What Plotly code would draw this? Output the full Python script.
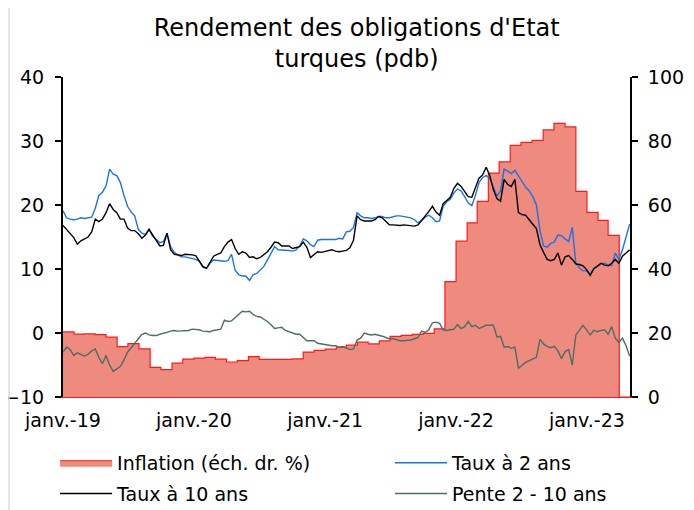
import pandas as pd
import plotly.graph_objects as go

# ---------------- data ----------------
# daily-ish series sampled every 10 days starting 2019-01-01
dates = pd.date_range("2019-01-01", periods=159, freq="10D")

taux_2ans = [
    19.1, 18.0, 17.8, 17.7, 17.8, 18.0, 17.9, 18.0, 18.1, 19.5,
    21.5, 22.0, 23.0, 25.6, 24.8, 24.6, 23.5, 21.5, 19.8, 18.9,
    18.3, 16.2, 15.6, 15.4, 16.2, 15.1, 14.6, 14.1, 14.3, 15.6,
    13.5, 12.6, 12.2, 11.9, 11.9, 11.8, 11.7, 11.5, 11.2, 10.3,
    10.1, 10.9, 11.4, 11.3, 11.2, 11.2, 11.3, 12.3, 9.8, 9.1,
    8.9, 8.9, 8.2, 9.1, 9.3, 9.8, 10.4, 11.4, 12.5, 13.5,
    13.0, 13.0, 13.0, 12.9, 12.8, 13.0, 13.6, 14.7, 14.4, 13.8,
    13.5, 14.5, 14.6, 14.6, 14.6, 14.6, 14.6, 14.8, 14.7,
    15.8, 15.9, 16.5, 18.8, 18.3, 18.0, 18.0, 17.9, 18.0, 18.2,
    18.2, 18.0, 18.0, 18.2, 18.3, 18.3, 18.2, 18.1, 18.0, 17.7,
    17.2, 17.6, 18.1, 18.4, 18.0, 17.4, 17.5, 19.8, 20.5, 20.9,
    21.9, 22.5, 22.2, 21.3, 20.3, 19.9, 21.5, 23.5, 24.3, 24.6,
    24.2, 22.8, 21.4, 22.2, 25.6, 25.3, 24.9, 25.4, 24.5, 23.5,
    22.8, 22.2, 21.3, 20.0, 16.0, 13.6, 13.4, 14.0, 14.2, 15.3,
    15.2, 14.7, 14.3, 16.5, 10.9, 10.2, 9.7, 9.7, 9.2, 10.1,
    10.5, 10.8, 10.9, 10.6, 10.5, 12.5, 11.5, 13.0, 15.0, 17.0,
]

taux_10ans = [
    16.8, 16.2, 15.6, 14.9, 13.9, 14.4, 14.7, 15.0, 15.8, 17.8,
    17.4, 17.8, 18.8, 20.2, 19.3, 18.8, 17.8, 17.8, 16.4, 16.0,
    16.0, 15.5, 14.8, 15.3, 16.2, 15.4, 14.4, 13.6, 13.7, 15.6,
    13.0, 12.3, 12.2, 12.1, 12.3, 12.3, 12.2, 12.1, 11.2, 10.4,
    10.1, 11.0, 12.0, 12.3, 12.5, 13.5, 14.2, 14.6, 13.2, 12.3,
    12.7, 12.5, 11.8, 11.9, 11.6, 11.8, 12.3, 12.7, 13.4, 14.2,
    14.1, 13.6, 13.6, 13.6, 13.2, 13.4, 13.5, 14.2, 13.4, 11.8,
    12.2, 12.7, 12.6, 12.7, 12.8, 13.0, 12.8, 12.7, 12.8,
    12.9, 13.3, 14.5, 18.3, 17.7, 17.5, 17.5, 17.5, 17.7, 18.2,
    18.0, 17.5, 16.9, 16.9, 16.8, 16.8, 16.9, 16.8, 16.7, 16.7,
    16.9, 17.6, 18.2, 19.0, 19.8, 18.9, 18.4, 20.2, 20.7, 21.2,
    22.6, 23.4, 22.9, 22.0, 21.3, 21.2, 22.8, 24.2, 24.7, 25.9,
    24.6, 22.4, 21.0, 20.6, 24.0, 23.2, 22.9, 24.0, 18.8, 18.5,
    18.4, 17.6, 17.0, 16.3, 13.8, 12.6, 11.5, 11.3, 11.5, 12.5,
    10.6, 11.9, 12.1, 11.5, 10.8, 10.7, 10.5, 9.9, 9.0, 10.0,
    10.4, 10.9, 10.6, 10.5, 10.9, 11.5, 10.9, 12.0, 12.5, 13.0,
]

pente = [
    -3.0, -2.2, -2.6, -3.5, -3.1, -3.3, -3.6, -3.3, -2.8, -2.5,
    -3.8, -4.8, -3.5, -5.0, -6.0, -5.6, -5.2, -4.2, -3.0, -2.3,
    -1.6, -0.8, -0.2, 0.0, -0.3, -0.4, -0.4, -0.2, -0.1, 0.1,
    0.3, 0.4, 0.3, 0.3, 0.3, 0.4, 0.6, 0.6, 0.5, 0.3,
    0.3, 0.2, 0.4, 0.5, 0.6, 2.0, 1.8, 1.9, 2.4, 2.9,
    3.4, 3.3, 3.4, 2.9, 2.6, 2.5, 2.2, 1.8, 1.3, 0.7,
    0.8, 0.9, 0.4, 0.2, 0.1, -0.2, -0.2, -0.7, -1.2, -1.2,
    -1.2, -1.6, -1.7, -1.8, -2.0, -2.0, -2.0, -2.2, -2.1,
    -2.3, -2.6, -2.5, -1.1, -0.8, 0.0, -0.2, -0.3, -0.2, -0.3,
    -0.5, -0.7, -0.9, -0.9, -1.1, -1.2, -1.2, -1.2, -1.1, -0.9,
    -0.7, 0.3, 0.1, 0.5, 1.6, 1.7, 1.5, 0.5, 0.4, 0.5,
    0.6, 1.3, 0.7, 1.0, 1.8, 1.0, 1.2, 0.7, 0.9, 1.2,
    1.2, 1.2, -0.6, -0.5, -2.2, -2.1, -2.4, -2.2, -5.5, -5.0,
    -4.6, -4.3, -4.1, -3.8, -1.0, -1.7, -2.1, -2.3, -2.1, -2.8,
    -4.0, -2.9, -2.6, -5.0, -0.3, 0.5, 1.2, 0.5, -0.3, 0.4,
    0.2, 0.4, 0.5, -0.2, 1.0, -0.8, -1.5, -0.8, -2.0, -3.6,
]

# monthly CPI inflation (right axis), Jan 2019 -> May 2023
infl_dates = pd.date_range("2019-01-01", "2023-05-01", freq="MS")
inflation = [
    20.35, 19.67, 19.71, 19.50, 18.71, 15.72, 16.65, 15.01, 9.26, 8.55, 10.56, 11.84,
    12.15, 12.37, 11.86, 10.94, 11.39, 12.62, 11.76, 11.77, 11.75, 11.89, 14.03, 14.60,
    14.97, 15.61, 16.19, 17.14, 16.59, 17.53, 18.95, 19.25, 19.58, 19.89, 21.31, 36.08,
    48.69, 54.44, 61.14, 69.97, 73.50, 78.62, 79.60, 80.21, 83.45, 85.51, 84.39, 64.27,
    57.68, 55.18, 50.51, 0.0, 0.0,
]

tick_dates = ["2019-01-01", "2020-01-01", "2021-01-01", "2022-01-01", "2023-01-01"]
tick_text = ["janv.-19", "janv.-20", "janv.-21", "janv.-22", "janv.-23"]

FONT = "DejaVu Sans"

fig = go.Figure()
fig.add_trace(go.Scatter(
    x=infl_dates, y=inflation, name="Inflation (éch. dr. %)",
    mode="lines", line=dict(color="#ff1a1a", width=1.2, shape="hv"),
    fill="tozeroy", fillcolor="#ee8a7e", yaxis="y",
    legend="legend", legendgroup="a",
))
fig.add_trace(go.Scatter(
    x=dates, y=taux_2ans, name="Taux à 2 ans", mode="lines",
    line=dict(color="#1a73e8", width=1.4), yaxis="y2",
    legend="legend2", legendgroup="b",
))
fig.add_trace(go.Scatter(
    x=dates, y=taux_10ans, name="Taux à 10 ans", mode="lines",
    line=dict(color="#000000", width=1.4), yaxis="y2",
    legend="legend", legendgroup="c",
))
fig.add_trace(go.Scatter(
    x=dates, y=pente, name="Pente 2 - 10 ans", mode="lines",
    line=dict(color="#4d6e66", width=1.4), yaxis="y2",
    legend="legend2", legendgroup="d",
))

# frame lines (light grey border of the original image)
shapes = []
for xv in (-0.0952, 1.1058):
    shapes.append(dict(type="line", xref="paper", yref="paper", x0=xv, x1=xv,
                       y0=-0.36, y1=1.24, line=dict(color="#dcdcdc", width=1.5)))

leg_common = dict(orientation="v", yanchor="top", y=-0.1465,
                  xanchor="left",
                  font=dict(size=19, family=FONT, color="black"),
                  itemwidth=52, tracegroupgap=3, bgcolor="rgba(0,0,0,0)")

# the page adds an 8px body margin: figure is sized/margined to compensate
fig.update_layout(
    width=686, height=502,
    margin=dict(l=55, r=64, t=69, b=113, autoexpand=False),
    paper_bgcolor="white", plot_bgcolor="white",
    font=dict(family=FONT, size=18, color="black"),
    title=dict(text="Rendement des obligations d'Etat<br>turques (pdb)",
               x=0.518, xanchor="center", xref="paper", y=0.945, yref="container",
               yanchor="top", font=dict(size=24, family=FONT, color="black")),
    showlegend=True,
    legend=dict(x=-0.0139, **leg_common),
    legend2=dict(x=0.5767, **leg_common),
    xaxis=dict(type="date", range=["2019-01-01", "2023-05-01"],
               tickvals=tick_dates, ticktext=tick_text, showgrid=False,
               showline=True, linecolor="#ff1a1a", linewidth=1.2, ticks="",
               ticklabelstandoff=6, zeroline=False, tickfont=dict(size=19)),
    yaxis=dict(range=[0, 100], side="right", dtick=20, showgrid=False, zeroline=False,
               showline=True, linecolor="black", linewidth=2, ticks="outside",
               ticklen=6, tickcolor="black", tickwidth=1.5, ticklabelstandoff=6,
               tickfont=dict(size=19)),
    yaxis2=dict(range=[-10, 40], side="left", overlaying="y", dtick=10, showgrid=False,
                zeroline=False, showline=True, linecolor="black", linewidth=2,
                ticks="outside", ticklen=6, tickcolor="black", tickwidth=1.5,
                ticklabelstandoff=7, tickfont=dict(size=19)),
    shapes=shapes,
)

fig.write_html("out.html")
